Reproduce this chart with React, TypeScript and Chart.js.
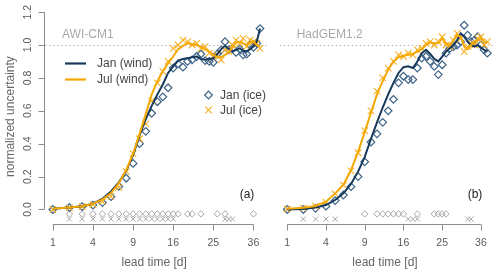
import React, { useEffect, useRef } from "react";
import { Chart, registerables } from "chart.js";

Chart.register(...registerables);

// ---------- data ----------
const days = [1, 2, 3, 4, 5, 6, 7, 8, 9, 10, 11, 12, 13, 14, 15, 16, 17, 18, 19, 20, 21, 22, 23, 24, 25, 26, 27, 28, 29, 30, 31, 32, 33, 34, 35, 36, 37, 38];
const tickDays = [1, 4, 9, 16, 25, 36];
const yTicks = [0, 0.2, 0.4, 0.6, 0.8, 1.0, 1.2];

// AWI-CM1
const janWindA = [0.005, 0.012, 0.02, 0.035, 0.065, 0.11, 0.165, 0.235, 0.33, 0.45, 0.55, 0.63, 0.7, 0.76, 0.83, 0.87, 0.905, 0.915, 0.92, 0.925, 0.93, 0.915, 0.91, 0.915, 0.92, 0.945, 0.975, 0.995, 0.975, 0.96, 0.97, 0.98, 0.965, 0.96, 0.975, 0.99, 1.02, 1.1];
const julWindA = [0.005, 0.012, 0.02, 0.035, 0.06, 0.1, 0.16, 0.24, 0.34, 0.46, 0.58, 0.7, 0.78, 0.84, 0.89, 0.93, 0.975, 0.995, 1.01, 1.005, 1.0, 0.99, 0.975, 0.96, 0.94, 0.925, 0.925, 0.94, 0.955, 0.985, 1.015, 1.02, 1.01, 1.0, 1.015, 1.02, 1.0, 0.99];
const janIceA = [0.0, 0.012, 0.018, 0.027, 0.042, 0.078, 0.14, 0.19, 0.28, 0.4, 0.475, 0.585, 0.655, 0.685, 0.74, 0.86, 0.885, 0.865, 0.9, 0.91, 0.93, 0.945, 0.905, 0.9, 0.895, 0.945, 0.97, 1.02, 0.97, 0.98, 0.955, 0.975, 0.94, 0.945, 1.0, 0.985, 1.01, 1.1];
const julIceA = [0.0, 0.01, 0.018, 0.03, 0.048, 0.08, 0.135, 0.23, 0.34, 0.43, 0.52, 0.66, 0.77, 0.84, 0.9, 0.98, 1.0, 1.03, 1.02, 1.0, 1.01, 0.98, 0.99, 0.95, 0.93, 0.94, 0.91, 0.97, 0.96, 1.0, 1.03, 1.01, 1.04, 0.99, 1.03, 1.02, 1.01, 0.98];
const sigJanA = [2, 3, 4, 5, 6, 7, 8, 9, 10, 11, 12, 13, 14, 15, 16, 17, 19, 20, 22, 26, 28, 36];
const sigJulA = [2, 3, 4, 5, 6, 7, 8, 9, 10, 11, 12, 13, 14, 15, 16, 28, 29, 30];

// HadGEM1.2
const janWindB = [0.0, 0.003, 0.012, 0.027, 0.058, 0.098, 0.155, 0.23, 0.32, 0.43, 0.53, 0.62, 0.7, 0.77, 0.83, 0.865, 0.87, 0.86, 0.9, 0.95, 0.97, 0.945, 0.915, 0.9, 0.93, 0.96, 0.98, 1.0, 1.03, 1.07, 1.05, 1.02, 1.0, 0.99, 1.0, 0.985, 0.97, 0.96];
const julWindB = [0.005, 0.01, 0.021, 0.047, 0.098, 0.15, 0.24, 0.35, 0.47, 0.59, 0.7, 0.78, 0.85, 0.9, 0.925, 0.935, 0.94, 0.945, 0.96, 0.975, 1.0, 1.015, 1.01, 1.01, 1.04, 1.01, 1.0, 1.03, 1.06, 1.05, 0.99, 0.975, 1.0, 1.015, 1.03, 1.04, 1.02, 1.01];
const janIceB = [0.0, 0.0, 0.007, 0.02, 0.054, 0.088, 0.139, 0.2, 0.29, 0.41, 0.46, 0.53, 0.6, 0.67, 0.77, 0.81, 0.79, 0.79, 0.86, 0.92, 0.93, 0.9, 0.87, 0.82, 0.88, 0.95, 0.98, 0.99, 1.0, 1.02, 1.12, 1.06, 1.02, 1.03, 1.05, 1.0, 0.97, 0.95];
const julIceB = [0.003, 0.008, 0.02, 0.045, 0.095, 0.148, 0.235, 0.345, 0.48, 0.6, 0.72, 0.8, 0.86, 0.9, 0.94, 0.93, 0.95, 0.94, 0.97, 0.98, 1.01, 1.02, 1.0, 1.02, 1.05, 1.0, 0.99, 1.03, 1.07, 1.04, 0.96, 0.99, 1.01, 1.0, 1.04, 1.05, 1.0, 1.02];
const sigJanB = [9, 11, 12, 13, 14, 15, 16, 19, 23, 24, 25, 26];
const sigJulB = [2, 3, 4, 5, 17, 18, 19, 32, 33];

const sigJanLevel = -0.027;
const sigJulLevel = -0.058;

// ---------- style ----------
const NAVY = "#17395b";
const DIAMOND = "#3f6589";
const ORANGE = "#f5a800";
const ORANGE_PT = "#f7b024";
const GRAY_PT = "#a8a8a8";
const AXIS = "#8c8c8c";
const TICKTXT = "#5a5a5a";
const FONT = '"Liberation Sans", Arimo, Arial, sans-serif';
const XMIN = 0.805;
const XMAX = 6.345;
const YMIN = -0.09;
const YMAX = 1.22;

function pts(xs: number[], ys: number[]) {
  return xs.map((d, i) => ({ x: Math.sqrt(d), y: ys[i] }));
}
function flat(xs: number[], level: number) {
  return xs.map((d) => ({ x: Math.sqrt(d), y: level }));
}

function drawDiamond(ctx: CanvasRenderingContext2D, x: number, y: number, r: number, color: string) {
  ctx.save();
  ctx.strokeStyle = color;
  ctx.lineWidth = 1.2;
  ctx.beginPath();
  ctx.moveTo(x - r, y);
  ctx.lineTo(x, y - r);
  ctx.lineTo(x + r, y);
  ctx.lineTo(x, y + r);
  ctx.closePath();
  ctx.stroke();
  ctx.restore();
}
function drawCross(ctx: CanvasRenderingContext2D, x: number, y: number, r: number, color: string) {
  ctx.save();
  ctx.strokeStyle = color;
  ctx.lineWidth = 1.1;
  ctx.beginPath();
  ctx.moveTo(x - r, y - r);
  ctx.lineTo(x + r, y + r);
  ctx.moveTo(x - r, y + r);
  ctx.lineTo(x + r, y - r);
  ctx.stroke();
  ctx.restore();
}

type Spec = {
  model: string;
  tag: string;
  yAxis: boolean;
  legend: boolean;
  janWind: number[];
  julWind: number[];
  janIce: number[];
  julIce: number[];
  sigJan: number[];
  sigJul: number[];
  width: number;
  padLeft: number;
};

function rPlugin(p: Spec) {
  return {
    id: "rstyle",
    beforeDatasetsDraw(chart: any) {
      const { ctx, chartArea: a, scales } = chart;
      const y1 = Math.round(scales.y.getPixelForValue(1)) + 0.5;
      ctx.save();
      ctx.strokeStyle = "#b8b8b8";
      ctx.lineWidth = 1;
      ctx.setLineDash([1.5, 2.5]);
      ctx.beginPath();
      ctx.moveTo(a.left, y1);
      ctx.lineTo(a.right, y1);
      ctx.stroke();
      ctx.restore();
    },
    afterDraw(chart: any) {
      const { ctx, chartArea: a, scales } = chart;
      const xs = scales.x;
      const ys = scales.y;
      ctx.save();
      ctx.strokeStyle = AXIS;
      ctx.lineWidth = 1;
      // x axis
      const ya = Math.round(a.bottom) + 0.5;
      const xa0 = xs.getPixelForValue(Math.sqrt(tickDays[0]));
      const xa1 = xs.getPixelForValue(Math.sqrt(tickDays[tickDays.length - 1]));
      ctx.beginPath();
      ctx.moveTo(xa0, ya);
      ctx.lineTo(xa1, ya);
      tickDays.forEach((t) => {
        const xp = Math.round(xs.getPixelForValue(Math.sqrt(t))) + 0.5;
        ctx.moveTo(xp, ya);
        ctx.lineTo(xp, ya + 6);
      });
      ctx.stroke();
      ctx.fillStyle = TICKTXT;
      ctx.font = `10.5px ${FONT}`;
      ctx.textAlign = "center";
      ctx.textBaseline = "middle";
      tickDays.forEach((t) => {
        ctx.fillText(String(t), xs.getPixelForValue(Math.sqrt(t)), ya + 19);
      });
      ctx.fillStyle = "#666666";
      ctx.font = `12px ${FONT}`;
      ctx.fillText("lead time [d]", (a.left + a.right) / 2 - 2, ya + 38);

      if (p.yAxis) {
        const xl = Math.round(a.left) - 0.5;
        ctx.beginPath();
        ctx.moveTo(xl, ys.getPixelForValue(yTicks[0]));
        ctx.lineTo(xl, ys.getPixelForValue(yTicks[yTicks.length - 1]));
        yTicks.forEach((v) => {
          const yp = Math.round(ys.getPixelForValue(v)) + 0.5;
          ctx.moveTo(xl, yp);
          ctx.lineTo(xl - 6, yp);
        });
        ctx.stroke();
        ctx.fillStyle = TICKTXT;
        ctx.font = `10.5px ${FONT}`;
        yTicks.forEach((v) => {
          ctx.save();
          ctx.translate(xl - 16, ys.getPixelForValue(v));
          ctx.rotate(-Math.PI / 2);
          ctx.fillText(v.toFixed(1), 0, 0);
          ctx.restore();
        });
        ctx.save();
        ctx.fillStyle = "#666666";
        ctx.font = `12px ${FONT}`;
        ctx.translate(11, (a.top + a.bottom) / 2);
        ctx.rotate(-Math.PI / 2);
        ctx.fillText("normalized uncertainty", 0, 0);
        ctx.restore();
      }

      // model name
      ctx.fillStyle = "#a9a9a9";
      ctx.font = `12px ${FONT}`;
      ctx.textAlign = "left";
      ctx.fillText(p.model, a.left + 17, 35);

      // panel tag
      ctx.fillStyle = "#222222";
      ctx.textAlign = "right";
      ctx.fillText(p.tag, a.right - (p.yAxis ? 13 : 12), 195);

      if (p.legend) {
        ctx.textAlign = "left";
        ctx.fillStyle = "#444444";
        ctx.lineWidth = 2.2;
        ctx.strokeStyle = NAVY;
        ctx.beginPath();
        ctx.moveTo(65, 63.5);
        ctx.lineTo(86, 63.5);
        ctx.stroke();
        ctx.strokeStyle = ORANGE;
        ctx.beginPath();
        ctx.moveTo(65, 79.5);
        ctx.lineTo(86, 79.5);
        ctx.stroke();
        ctx.fillText("Jan (wind)", 97, 64);
        ctx.fillText("Jul (wind)", 97, 80);
        drawDiamond(ctx, 208.5, 95, 3.8, DIAMOND);
        drawCross(ctx, 208.5, 110, 3.3, ORANGE_PT);
        ctx.fillStyle = "#444444";
        ctx.fillText("Jan (ice)", 220, 95.5);
        ctx.fillText("Jul (ice)", 220, 110.5);
      }
      ctx.restore();
    },
  };
}

function Panel({ spec, left }: { spec: Spec; left: number }) {
  const ref = useRef<HTMLCanvasElement | null>(null);
  useEffect(() => {
    if (!ref.current) return;
    const chart = new Chart(ref.current, {
      type: "line",
      data: {
        datasets: [
          { label: "Jul (wind)", data: pts(days, spec.julWind), borderColor: ORANGE, borderWidth: 2, pointRadius: 0, tension: 0, order: 0 },
          { label: "Jan (wind)", data: pts(days, spec.janWind), borderColor: NAVY, borderWidth: 2, pointRadius: 0, tension: 0, order: 1 },
          { label: "Jul (ice)", data: pts(days, spec.julIce), showLine: false, pointStyle: "crossRot", pointRadius: 4.6, borderColor: ORANGE_PT, backgroundColor: ORANGE_PT, pointBorderWidth: 1.1, order: 2 },
          { label: "Jan (ice)", data: pts(days, spec.janIce), showLine: false, pointStyle: "rectRot", pointRadius: 3.8, borderColor: DIAMOND, backgroundColor: "rgba(255,255,255,0)", pointBorderWidth: 1.2, order: 3 },
          { label: "Jan sig", data: flat(spec.sigJan, sigJanLevel), showLine: false, pointStyle: "rectRot", pointRadius: 3.2, borderColor: GRAY_PT, backgroundColor: "rgba(255,255,255,0)", pointBorderWidth: 1, order: 4 },
          { label: "Jul sig", data: flat(spec.sigJul, sigJulLevel), showLine: false, pointStyle: "crossRot", pointRadius: 3.6, borderColor: GRAY_PT, backgroundColor: GRAY_PT, pointBorderWidth: 1, order: 5 },
        ] as any,
      },
      options: {
        animation: false,
        responsive: false,
        devicePixelRatio: 1,
        events: [],
        layout: { padding: { left: spec.padLeft, right: 0, top: 8.8, bottom: 49.7 } },
        plugins: { legend: { display: false }, tooltip: { enabled: false } },
        scales: {
          x: { type: "linear", min: XMIN, max: XMAX, display: false },
          y: { type: "linear", min: YMIN, max: YMAX, display: false },
        },
      } as any,
      plugins: [rPlugin(spec)],
    });
    return () => chart.destroy();
  }, [spec]);
  return (
    <canvas
      ref={ref}
      width={spec.width}
      height={274}
      style={{ position: "absolute", left, top: 0, width: spec.width, height: 274, display: "block" }}
    />
  );
}

const specA: Spec = {
  model: "AWI-CM1", tag: "(a)", yAxis: true, legend: true,
  janWind: janWindA, julWind: julWindA, janIce: janIceA, julIce: julIceA,
  sigJan: sigJanA, sigJul: sigJulA, width: 273, padLeft: 45,
};
const specB: Spec = {
  model: "HadGEM1.2", tag: "(b)", yAxis: false, legend: false,
  janWind: janWindB, julWind: julWindB, janIce: janIceB, julIce: julIceB,
  sigJan: sigJanB, sigJul: sigJulB, width: 226, padLeft: 0,
};

export default function App() {
  return (
    <div style={{ position: "fixed", left: 0, top: 0, width: 500, height: 274, background: "#fff", overflow: "hidden" }}>
      <Panel spec={specA} left={0} />
      <Panel spec={specB} left={274} />
    </div>
  );
}
